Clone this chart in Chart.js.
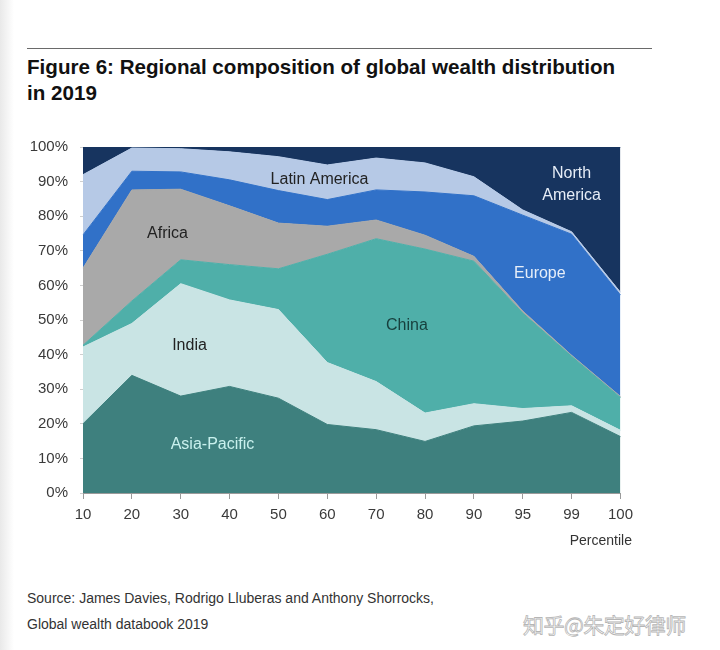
<!DOCTYPE html>
<html>
<head>
<meta charset="utf-8">
<script src="https://cdn.jsdelivr.net/npm/chart.js@4.4.1/dist/chart.umd.min.js"></script>
<style>
  html, body { margin: 0; padding: 0; }
  body {
    width: 720px; height: 650px; position: relative; overflow: hidden;
    background: linear-gradient(to right, #e9e9e9 0px, #ffffff 14px);
    font-family: "Liberation Sans", Arial, sans-serif;
  }
  .rule { position: absolute; left: 27px; top: 48px; width: 625px; height: 0; border-top: 1.5px solid #6a6a6a; }
  .title {
    position: absolute; left: 27px; top: 54px; font-size: 20.6px; font-weight: bold;
    color: #111; line-height: 26px;
  }
  .chart-box { position: absolute; left: 20px; top: 135px; width: 620px; height: 420px; }
  .xlabel { position: absolute; right: 88px; top: 532px; font-size: 14px; color: #333; }
  .source { position: absolute; left: 27px; top: 585px; font-size: 14px; color: #333; line-height: 26px; }
  .mark {
    position: absolute; left: 523px; top: 609px; font-size: 21px; color: #ffffff;
    font-family: "Noto Sans CJK SC", sans-serif; letter-spacing: -0.5px;
    -webkit-text-stroke: 0.8px #b5b5b5;
  }
</style>
</head>
<body>
<div class="rule"></div>
<div class="title">Figure 6: Regional composition of global wealth distribution<br>in 2019</div>
<div class="chart-box"><canvas id="chart"></canvas></div>
<div class="xlabel">Percentile</div>
<div class="source">Source: James Davies, Rodrigo Lluberas and Anthony Shorrocks,<br>Global wealth databook 2019</div>
<div class="mark">知乎@朱定好律师</div>
<script>
// wealth percentile groups (x axis)
const percentiles = ['10', '20', '30', '40', '50', '60', '70', '80', '90', '95', '99', '100'];

// share of each percentile held by region, % (bottom layer first)
const asiaPacific   = [20, 34, 28, 30.8, 27.4, 19.8, 18.3, 14.9, 19.4, 20.8, 23.3, 16.3];
const india         = [22.2, 15, 32.5, 25, 25.6, 17.9, 13.9, 8.2, 6.4, 3.6, 1.9, 1.8];
const china         = [0.5, 6.5, 6.9, 10.2, 11.8, 31.3, 41.3, 47.4, 41.2, 27.6, 14.3, 9.5];
const africa        = [22.3, 32.1, 20.4, 17, 13.2, 8.1, 5.4, 4, 1.4, 0.6, 0.3, 0.3];
const europe        = [9.6, 5.4, 5, 7.5, 9.4, 7.7, 8.7, 12.5, 17.5, 27.7, 35, 29.3];
const latinAmerica  = [17.4, 6.7, 6.7, 8.1, 9.8, 10, 9.2, 8.4, 5.5, 1.5, 0.7, 0.8];
const northAmerica  = [8, 0.3, 0.5, 1.4, 2.8, 5.2, 3.2, 4.6, 8.6, 18.2, 24.5, 42];

const yTicks = [0, 10, 20, 30, 40, 50, 60, 70, 80, 90, 100];

// in-chart region labels: [text lines, category position, value %, colour]
const regionLabels = [
    [['Latin America'], 4.84, 90.5, '#222222'],
    [['North', 'America'], 10.0, 89, '#e6edf7'],
    [['Africa'], 1.73, 75.1, '#222222'],
    [['Europe'], 9.35, 63.3, '#e6eef9'],
    [['China'], 6.63, 48.3, '#173f3d'],
    [['India'], 2.18, 42.5, '#222222'],
    [['Asia-Pacific'], 2.65, 13.9, '#c9f1ee']
];

const series = [
    ['Asia-Pacific', asiaPacific, '#3e807e'],
    ['India', india, '#c9e4e4'],
    ['China', china, '#4fafa9'],
    ['Africa', africa, '#a9a9a9'],
    ['Europe', europe, '#3171c8'],
    ['Latin America', latinAmerica, '#b6c9e6'],
    ['North America', northAmerica, '#17345f']
];

const labelPlugin = {
    id: 'regionLabels',
    afterDatasetsDraw(chart) {
        const ctx = chart.ctx;
        const xs = chart.scales.x;
        const ys = chart.scales.y;
        ctx.save();
        ctx.font = '16px "Liberation Sans", Arial, sans-serif';
        ctx.textAlign = 'center';
        ctx.textBaseline = 'middle';
        regionLabels.forEach(([lines, pos, val, color]) => {
            const i = Math.floor(pos);
            const a = xs.getPixelForValue(i);
            const b = xs.getPixelForValue(Math.min(i + 1, percentiles.length - 1));
            const x = a + (b - a) * (pos - i);
            const y = ys.getPixelForValue(val);
            ctx.fillStyle = color;
            lines.forEach((t, k) => {
                ctx.fillText(t, x, y + (k - (lines.length - 1) / 2) * 22);
            });
        });
        ctx.restore();
    }
};

const ctx = document.getElementById('chart').getContext('2d');
new Chart(ctx, {
    type: 'line',
    data: {
        labels: percentiles,
        datasets: series.map(([name, values, color], i) => ({
            label: name,
            data: values,
            backgroundColor: color,
            borderColor: color,
            borderWidth: 1,
            pointRadius: 0,
            tension: 0,
            fill: i === 0 ? 'origin' : '-1'
        }))
    },
    options: {
        responsive: true,
        maintainAspectRatio: false,
        animation: false,
        layout: { padding: { top: 12, right: 18, left: 0, bottom: 0 } },
        plugins: {
            legend: { display: false },
            tooltip: { enabled: false }
        },
        scales: {
            x: {
                offset: false,
                border: { display: true, color: '#9a9a9a' },
                grid: { display: true, drawOnChartArea: false, drawTicks: true, tickLength: 6, color: '#9a9a9a' },
                ticks: {
                    color: '#3a3a3a', padding: 7, maxRotation: 0, autoSkip: false,
                    font: { size: 15, family: '"Liberation Sans", Arial, sans-serif' }
                },
                afterFit(scale) { scale.height = 62; }
            },
            y: {
                stacked: true,
                min: 0,
                max: 100,
                afterBuildTicks(scale) { scale.ticks = yTicks.map(v => ({ value: v })); },
                border: { display: false },
                grid: { display: true, drawOnChartArea: false, drawTicks: true, tickLength: 3, color: '#cfcfcf' },
                ticks: {
                    color: '#3a3a3a', padding: 12,
                    font: { size: 15, family: '"Liberation Sans", Arial, sans-serif' },
                    callback: v => v + '%'
                },
                afterFit(scale) {
                    scale.width = 63;
                    scale.paddingTop = 0;
                    scale.paddingBottom = 0;
                }
            }
        }
    },
    plugins: [labelPlugin]
});
</script>
</body>
</html>
